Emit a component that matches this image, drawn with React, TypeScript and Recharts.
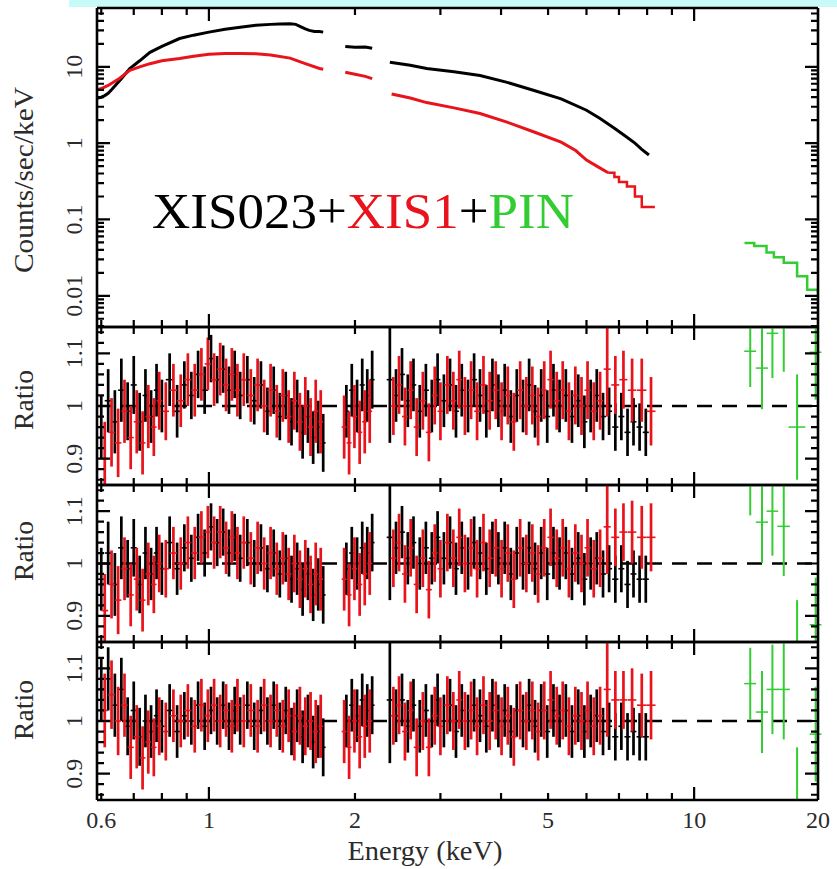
import React from 'react';
import { ComposedChart, XAxis, YAxis, Line, Scatter, ErrorBar, ReferenceLine } from 'recharts';

const W = 837;
const H = 869;
const PLOT_LEFT = 97;
const PLOT_RIGHT = 818;
const FONT = '"Liberation Serif", "Times New Roman", Times, serif';
const INK = '#2b2b2b';
const RED = '#e8131b';
const GREEN = '#33cc33';

// energy axis in keV. the figure is squeezed at the high end, so "20" sits on the right frame
const X_MIN = 0.588;
const X_MAX = 18.0;
const X_TICKS = [0.6, 0.7, 0.8, 0.9, 1, 2, 3, 4, 5, 6, 7, 8, 9, 10];
const X_MAJOR = [1, 10];
const X_LABEL_AT = [0.6, 1, 2, 5, 10, X_MAX];
const X_LABELS = new Map<number, string>([[0.6, '0.6'], [1, '1'], [2, '2'], [5, '5'], [10, '10'], [X_MAX, '20']]);

const COUNT_DOMAIN = [0.0039, 59];
const COUNT_TICKS = [
  0.004, 0.005, 0.006, 0.007, 0.008, 0.009,
  0.01, 0.02, 0.03, 0.04, 0.05, 0.06, 0.07, 0.08, 0.09,
  0.1, 0.2, 0.3, 0.4, 0.5, 0.6, 0.7, 0.8, 0.9,
  1, 2, 3, 4, 5, 6, 7, 8, 9,
  10, 20, 30, 40, 50,
];
const COUNT_MAJOR = [0.01, 0.1, 1, 10];
const COUNT_LABELS = new Map<number, string>([[0.01, '0.01'], [0.1, '0.1'], [1, '1'], [10, '10']]);

const RATIO_DOMAIN = [0.85, 1.15];
const RATIO_TICKS = [0.86, 0.88, 0.9, 0.92, 0.94, 0.96, 0.98, 1, 1.02, 1.04, 1.06, 1.08, 1.1, 1.12, 1.14];
const RATIO_MAJOR = [0.9, 1, 1.1];
const RATIO_LABELS = new Map<number, string>([[0.9, '0.9'], [1, '1'], [1.1, '1.1']]);

// ---- top panel: folded spectra (counts/sec/keV), null = gap between bands
const XIS023_SPEC_E = [
  0.59, 0.6, 0.61, 0.62, 0.63, 0.64, 0.66, 0.687, 0.72, 0.756, 0.8, 0.87, 0.93, 1.0, 1.08, 1.16, 1.25, 1.34, 1.4,
  1.47, 1.51, 1.54, 1.58, 1.61, 1.65, 1.69, 1.72,
  1.8,
  1.91, 2.0, 2.1, 2.17,
  2.25,
  2.36, 2.6, 2.81, 3.2, 3.62, 4.1, 4.68, 5.32, 6.0, 6.4, 6.85, 7.2, 7.55, 7.8, 8.07,
];
const XIS023_SPEC_V = [
  3.9, 4.0, 4.2, 4.5, 5.0, 5.6, 7.0, 9.5, 12, 15.5, 18.5, 23.5, 26, 28.5, 31, 33, 35, 36, 36.5,
  36.6, 36, 34, 31.5, 30, 29, 29, 28.5,
  null,
  18.5, 18, 18.2, 17.5,
  null,
  11.5, 10.5, 9.5, 8.6, 7.7, 6.3, 4.9, 3.8, 2.7, 2.1, 1.57, 1.25, 1.0, 0.83, 0.7,
];
const XIS1_SPEC_E = [
  0.59, 0.6, 0.62, 0.655, 0.687, 0.72, 0.756, 0.8, 0.87, 0.93, 1.0, 1.08, 1.16, 1.25, 1.34, 1.47, 1.58, 1.69, 1.72,
  1.8,
  1.91, 2.0, 2.1, 2.17,
  2.25,
  2.38, 2.6, 2.81, 3.2, 3.62, 4.1, 4.68, 5.32, 5.7, 6.0, 6.3, 6.65,
];
const XIS1_SPEC_V = [
  5.0, 5.2, 5.7, 7.1, 9.0, 10, 11, 12, 12.9, 13.8, 14.6, 15, 15, 14.8, 14.3, 13, 11, 9.5, 9.3,
  null,
  8.5, 8.0, 7.5, 7.0,
  null,
  4.4, 3.9, 3.4, 2.9, 2.45, 1.9, 1.4, 1.03, 0.8, 0.6, 0.5, 0.41,
];
// XIS1 wide bins above 6.6 keV (drawn as a staircase)
const XIS1_TAIL_E = [6.65, 6.85, 7.0, 7.27, 7.55, 7.8, 8.3];
const XIS1_TAIL_V = [0.41, 0.36, 0.31, 0.27, 0.2, 0.146, 0.146];
const PIN_SPEC_E = [12.7, 13.3, 14.1, 14.6, 15.3, 16.3, 17.1, 18.0];
const PIN_SPEC_V = [0.049, 0.045, 0.037, 0.032, 0.027, 0.018, 0.012, 0.011];

// ---- ratio panels: bin energies (keV)
const XIS023_E = [
  0.6, 0.62, 0.64, 0.66, 0.68, 0.7, 0.72, 0.74, 0.76, 0.78, 0.8, 0.83, 0.86, 0.89, 0.92, 0.95, 0.98, 1.01, 1.04,
  1.07, 1.1, 1.13, 1.16, 1.2, 1.24, 1.28, 1.32, 1.36, 1.4, 1.44, 1.48, 1.52, 1.56, 1.6, 1.64, 1.68, 1.72,
  1.92, 1.97, 2.02, 2.07, 2.12, 2.17,
  2.36, 2.43, 2.5, 2.57, 2.64, 2.72, 2.8, 2.88, 2.96, 3.05, 3.14, 3.23, 3.32, 3.42, 3.52, 3.62, 3.73, 3.84, 3.95,
  4.07, 4.19, 4.31, 4.44, 4.57, 4.7, 4.84, 4.98, 5.13, 5.28, 5.44, 5.6, 5.77, 5.94, 6.12, 6.3, 6.49, 6.68, 6.88,
  7.08, 7.29, 7.5, 7.72, 7.95,
];
const XIS023_ERR = [
  0.06, 0.06, 0.06, 0.06, 0.055, 0.055, 0.055, 0.05, 0.05, 0.05, 0.05, 0.05, 0.05, 0.045, 0.045, 0.045, 0.045, 0.045, 0.045,
  0.045, 0.045, 0.045, 0.045, 0.045, 0.045, 0.045, 0.045, 0.045, 0.045, 0.045, 0.045, 0.05, 0.05, 0.05, 0.05, 0.05, 0.055,
  0.05, 0.05, 0.05, 0.05, 0.05, 0.055,
  0.12, 0.05, 0.05, 0.05, 0.05, 0.05, 0.05, 0.05, 0.05, 0.05, 0.05, 0.05, 0.05, 0.05, 0.05, 0.05, 0.05, 0.05, 0.05,
  0.05, 0.05, 0.05, 0.05, 0.05, 0.05, 0.05, 0.05, 0.05, 0.05, 0.05, 0.05, 0.05, 0.05, 0.05, 0.05, 0.045, 0.045, 0.045,
  0.045, 0.045, 0.045, 0.045, 0.045,
];
const XIS1_E = [
  0.61, 0.63, 0.65, 0.67, 0.69, 0.71, 0.73, 0.75, 0.77, 0.79, 0.815, 0.845, 0.875, 0.905, 0.935, 0.965, 0.995, 1.025,
  1.055, 1.085, 1.115, 1.145, 1.18, 1.22, 1.26, 1.3, 1.34, 1.38, 1.42, 1.46, 1.5, 1.54, 1.58, 1.62, 1.66, 1.7,
  1.9, 1.945, 1.995, 2.045, 2.095, 2.145,
  2.4, 2.465, 2.535, 2.605, 2.68, 2.76, 2.84, 2.92, 3.0, 3.1, 3.19, 3.28, 3.37, 3.47, 3.57, 3.68, 3.79, 3.9, 4.01,
  4.13, 4.25, 4.38, 4.51, 4.64, 4.77, 4.91, 5.06, 5.21, 5.36, 5.52, 5.69, 5.86, 6.03, 6.21, 6.4, 6.62, 6.88, 7.15,
  7.45, 7.8, 8.15,
];
const XIS1_ERR = [
  0.07, 0.065, 0.065, 0.06, 0.06, 0.06, 0.06, 0.06, 0.055, 0.055, 0.055, 0.05, 0.05, 0.05, 0.05, 0.05, 0.05, 0.05,
  0.05, 0.05, 0.05, 0.05, 0.05, 0.05, 0.05, 0.05, 0.05, 0.05, 0.05, 0.05, 0.055, 0.055, 0.055, 0.055, 0.06, 0.06,
  0.06, 0.06, 0.06, 0.06, 0.06, 0.06,
  0.055, 0.055, 0.055, 0.055, 0.055, 0.055, 0.055, 0.055, 0.055, 0.055, 0.055, 0.055, 0.055, 0.055, 0.055, 0.055,
  0.055, 0.055, 0.055, 0.055, 0.055, 0.055, 0.055, 0.055, 0.055, 0.055, 0.055, 0.055, 0.055, 0.055, 0.055, 0.055,
  0.055, 0.055, 0.055, 0.09, 0.055, 0.055, 0.06, 0.06, 0.065,
];
const PIN_E = [13.05, 13.8, 14.5, 15.3, 16.3, 17.8];
const PIN_HALF = [0.37, 0.4, 0.4, 0.45, 0.65, 0.5];
const PIN_ERR = [0.068, 0.078, 0.085, 0.095, 0.1, 0.09];

// ratio values, model A (second panel)
const XIS023_RATIO_A = [
  0.96, 1.01, 0.97, 1.03, 0.99, 1.04, 0.97, 1.02, 0.98, 1.03, 1.0, 1.05, 0.99, 1.04, 1.02, 1.06, 1.03, 1.09, 1.05,
  1.07, 1.03, 1.06, 1.02, 1.05, 1.01, 1.04, 0.99, 1.03, 0.98, 1.02, 0.97, 1.0, 0.95, 0.98, 0.94, 0.96, 0.93,
  0.99, 1.03, 1.0, 1.04, 1.02, 1.05,
  1.05, 1.02, 1.06, 1.01, 1.04, 0.99, 1.03, 1.0, 1.05, 1.01, 1.04, 0.99, 1.03, 1.0, 1.05, 1.02, 0.99, 1.04, 1.01,
  1.03, 0.98, 1.02, 1.0, 1.04, 0.99, 1.02, 0.98, 1.03, 1.0, 1.02, 0.98, 1.01, 0.97, 1.0, 1.02, 0.98, 0.99, 0.96,
  0.98, 0.95, 0.97, 0.96, 0.95,
];
const XIS1_RATIO_A = [
  0.9, 0.95, 0.93, 0.99, 0.94, 0.97, 0.93, 0.98, 0.96, 1.01, 0.99, 1.03, 1.01, 1.05, 1.03, 1.06, 1.08, 1.05,
  1.07, 1.04, 1.06, 1.03, 1.05, 1.02, 1.04, 1.0, 1.03, 0.99, 1.02, 0.98, 1.01, 0.97, 1.0, 0.96, 0.99, 0.97,
  0.96, 0.93, 0.98, 0.95, 0.97, 0.99,
  1.0, 1.04, 0.98, 1.03, 0.96, 1.01, 0.95, 1.02, 0.99, 1.04, 1.01, 1.05, 1.0, 1.03, 0.99, 1.04, 1.01, 1.03, 0.99,
  1.02, 0.97, 1.03, 1.0, 1.02, 0.98, 1.03, 1.05, 1.01, 1.03, 0.99, 1.02, 1.0, 1.03, 0.99, 1.01, 1.07, 1.04, 1.05,
  1.03, 1.03, 0.99,
];
const PIN_RATIO_A = [1.104, 1.072, 1.138, 1.16, 0.96, 1.102];

// model B (third panel)
const XIS023_RATIO_B = [
  0.97, 1.02, 0.96, 1.03, 0.99, 1.03, 0.96, 1.02, 0.98, 1.02, 0.99, 1.04, 0.99, 1.03, 1.01, 1.05, 1.02, 1.07, 1.04,
  1.06, 1.02, 1.05, 1.01, 1.04, 1.0, 1.03, 0.99, 1.02, 0.98, 1.01, 0.97, 0.99, 0.95, 0.98, 0.94, 0.96, 0.94,
  0.99, 1.02, 1.0, 1.03, 1.02, 1.04,
  1.05, 1.03, 1.06, 1.01, 1.04, 1.0, 1.03, 1.01, 1.05, 1.01, 1.04, 0.99, 1.03, 1.0, 1.04, 1.02, 0.99, 1.03, 1.01,
  1.03, 0.98, 1.02, 1.0, 1.03, 0.99, 1.02, 0.98, 1.02, 1.0, 1.02, 0.98, 1.01, 0.97, 1.0, 1.01, 0.98, 0.99, 0.97,
  0.99, 0.96, 0.98, 0.97, 0.97,
];
const XIS1_RATIO_B = [
  0.91, 0.96, 0.93, 0.99, 0.94, 0.97, 0.93, 0.98, 0.96, 1.0, 0.99, 1.02, 1.0, 1.04, 1.02, 1.05, 1.06, 1.04,
  1.06, 1.03, 1.05, 1.02, 1.04, 1.01, 1.03, 1.0, 1.02, 0.99, 1.01, 0.98, 1.0, 0.97, 0.99, 0.96, 0.98, 0.97,
  0.97, 0.94, 0.99, 0.96, 0.98, 1.0,
  1.01, 1.04, 0.98, 1.03, 0.96, 1.01, 0.95, 1.02, 0.99, 1.04, 1.01, 1.05, 1.0, 1.03, 0.99, 1.04, 1.01, 1.03, 0.99,
  1.02, 0.97, 1.03, 1.0, 1.02, 0.98, 1.03, 1.05, 1.01, 1.03, 0.99, 1.02, 1.0, 1.03, 0.99, 1.01, 1.07, 1.05, 1.06,
  1.06, 1.05, 1.05,
];
const PIN_RATIO_B = [1.16, 1.079, 1.1, 1.071, 0.83, 0.883];

// model C (bottom panel)
const XIS023_RATIO_C = [
  1.06, 1.08, 1.03, 1.06, 0.99, 1.02, 0.97, 1.0, 0.98, 1.01, 0.99, 1.02, 0.98, 1.01, 1.0, 1.03, 0.99, 1.02, 1.0,
  1.03, 0.99, 1.02, 1.0, 1.03, 0.99, 1.02, 1.0, 1.03, 0.99, 1.02, 0.98, 1.01, 0.97, 1.0, 0.96, 0.98, 0.95,
  1.0, 1.03, 1.01, 1.04, 1.02, 1.03,
  1.04, 1.01, 1.04, 0.99, 1.03, 0.99, 1.02, 1.0, 1.04, 1.0, 1.03, 0.98, 1.02, 1.0, 1.03, 1.01, 0.99, 1.03, 1.0,
  1.02, 0.98, 1.02, 1.0, 1.03, 0.99, 1.02, 0.98, 1.02, 1.0, 1.02, 0.98, 1.01, 0.98, 1.0, 1.01, 0.98, 0.99, 0.97,
  0.99, 0.97, 0.98, 0.97, 0.97,
];
const XIS1_RATIO_C = [
  1.02, 1.05, 1.0, 1.03, 0.95, 0.97, 0.93, 0.96, 0.95, 0.99, 0.98, 1.01, 1.0, 1.02, 0.99, 1.03, 1.01, 1.03,
  1.0, 1.02, 0.99, 1.03, 1.0, 1.02, 0.99, 1.03, 1.0, 1.02, 0.99, 1.01, 0.98, 1.01, 0.99, 1.0, 0.98, 0.99,
  0.98, 0.95, 1.0, 0.97, 0.99, 1.0,
  1.01, 1.03, 0.98, 1.02, 0.95, 1.0, 0.95, 1.01, 0.99, 1.03, 1.0, 1.04, 1.0, 1.02, 0.99, 1.03, 1.0, 1.02, 0.99,
  1.01, 0.97, 1.02, 1.0, 1.02, 0.98, 1.02, 1.04, 1.01, 1.02, 0.99, 1.01, 1.0, 1.02, 0.99, 1.01, 1.06, 1.04, 1.04,
  1.04, 1.03, 1.03,
];
const PIN_RATIO_C = [1.071, 1.017, 1.06, 1.06, 0.85, 0.975];

// panel frames (page pixels)
const PANELS = [
  { top: 8, bottom: 327, counts: true },
  { top: 327, bottom: 485, counts: false },
  { top: 485, bottom: 642, counts: false },
  { top: 642, bottom: 800, counts: false },
];
const RATIO_TITLE_Y = [400, 551, 710];

type Pt = { e: number; v: number | null; err?: number[]; xerr?: number };

const spectrum = (es: number[], vs: (number | null)[]): Pt[] => es.map((e, i) => ({ e, v: vs[i] }));

// half bin width from the nearest neighbouring bin
const halfWidth = (es: number[], i: number) => {
  const d = [es[i + 1] - es[i], es[i] - es[i - 1]].filter((x) => !Number.isNaN(x) && x > 0);
  return Math.min(...d) / 2;
};
// error bars are cut at the panel frame
const [R_LO, R_HI] = RATIO_DOMAIN;
const ratioPoints = (es: number[], vs: number[], errs: number[], half?: number[]): Pt[] =>
  es.map((e, i) => {
    const v = vs[i];
    const inside = v >= R_LO && v <= R_HI;
    return {
      e,
      v,
      err: [Math.min(errs[i], v - R_LO), Math.min(errs[i], R_HI - v)],
      xerr: inside ? (half ? half[i] : halfWidth(es, i)) : 0,
    };
  });

// tick labels only (the axis hands us the point on the frame)
const makeLabel = (side: 'bottom' | 'left', labels?: Map<number, string>) => (p: any) => {
  const v: number = p.payload.value;
  const x = Number(p.x);
  const y = Number(p.y);
  const text = labels ? labels.get(v) : undefined;
  if (!text) return <g />;
  if (side === 'bottom') {
    return (
      <text x={x} y={y + 28} textAnchor="middle" fontSize={24} fontFamily={FONT} fill={INK}>
        {text}
      </text>
    );
  }
  return (
    <text x={x - 15} y={y} transform={`rotate(-90 ${x - 15} ${y})`} textAnchor="middle" fontSize={24} fontFamily={FONT} fill={INK}>
      {text}
    </text>
  );
};

// inward frame ticks, xspec style: same axis mapping as the charts (log x, log/linear y)
const MAJOR_LEN = 13;
const MINOR_LEN = 7;
const xPx = (e: number) =>
  PLOT_LEFT + (Math.log10(e / X_MIN) / Math.log10(X_MAX / X_MIN)) * (PLOT_RIGHT - PLOT_LEFT);

function FrameTicks({ top, bottom, counts }: { top: number; bottom: number; counts: boolean }) {
  const [y0, y1] = counts ? COUNT_DOMAIN : RATIO_DOMAIN;
  const h = bottom - top;
  const yPx = (v: number) =>
    counts ? top + (Math.log10(y1 / v) / Math.log10(y1 / y0)) * h : top + ((y1 - v) / (y1 - y0)) * h;
  const yTicks = counts ? COUNT_TICKS : RATIO_TICKS;
  const yMajor = counts ? COUNT_MAJOR : RATIO_MAJOR;
  const segs: string[] = [];
  X_TICKS.forEach((t) => {
    const x = xPx(t);
    const len = X_MAJOR.includes(t) ? MAJOR_LEN : MINOR_LEN;
    segs.push(`M${x},${bottom}V${bottom - len}`, `M${x},${top}V${top + len}`);
  });
  yTicks.forEach((t) => {
    const y = yPx(t);
    const len = yMajor.includes(t) ? MAJOR_LEN : MINOR_LEN;
    segs.push(`M${PLOT_LEFT},${y}H${PLOT_LEFT + len}`, `M${PLOT_RIGHT},${y}H${PLOT_RIGHT - len}`);
  });
  return <path d={segs.join('')} stroke="#000" strokeWidth={2.2} fill="none" />;
}

const frameLine = { stroke: '#000', strokeWidth: 2.6 };
const noMark = () => <g />;

type PanelProps = { top: number; bottom: number; counts?: boolean; showX?: boolean; children: React.ReactNode };

// axis bands are 1px wide, so the plot area sits exactly on the frame
function Panel({ top, bottom, counts = false, showX = false, children }: PanelProps) {
  const mt = 20;
  const mb = showX ? 69 : 20;
  const domain = counts ? COUNT_DOMAIN : RATIO_DOMAIN;
  const labelTicks = counts ? COUNT_MAJOR : RATIO_MAJOR;
  const labels = counts ? COUNT_LABELS : RATIO_LABELS;
  const scale = counts ? 'log' : 'linear';
  return (
    <div style={{ position: 'absolute', left: 0, top: top - mt }}>
      <ComposedChart
        width={W}
        height={bottom - top + mt + mb}
        margin={{ top: mt - 1, right: W - PLOT_RIGHT - 1, bottom: mb - 1, left: PLOT_LEFT - 1 }}
      >
        <XAxis
          dataKey="e"
          type="number"
          scale="log"
          domain={[X_MIN, X_MAX]}
          allowDataOverflow
          ticks={X_LABEL_AT}
          interval={0}
          height={1}
          tickSize={0}
          tickMargin={0}
          tickLine={false}
          axisLine={frameLine}
          tick={makeLabel('bottom', showX ? X_LABELS : undefined)}
        />
        <XAxis
          xAxisId="t"
          orientation="top"
          type="number"
          scale="log"
          domain={[X_MIN, X_MAX]}
          allowDataOverflow
          height={1}
          tick={false}
          tickLine={false}
          axisLine={frameLine}
        />
        <YAxis
          dataKey="v"
          type="number"
          scale={scale}
          domain={domain}
          allowDataOverflow
          ticks={labelTicks}
          interval={0}
          width={1}
          tickSize={0}
          tickMargin={0}
          tickLine={false}
          axisLine={frameLine}
          tick={makeLabel('left', labels)}
        />
        <YAxis
          yAxisId="r"
          orientation="right"
          type="number"
          scale={scale}
          domain={domain}
          allowDataOverflow
          width={1}
          tick={false}
          tickLine={false}
          axisLine={frameLine}
        />
        {children}
      </ComposedChart>
    </div>
  );
}

function RatioPanel({ top, bottom, xis023, xis1, pin, showX }: {
  top: number; bottom: number; xis023: number[]; xis1: number[]; pin: number[]; showX?: boolean;
}) {
  return (
    <Panel top={top} bottom={bottom} showX={showX}>
      <ReferenceLine y={1} stroke="#000" strokeWidth={2.5} strokeDasharray="15 10" />
      <Scatter data={ratioPoints(XIS023_E, xis023, XIS023_ERR)} dataKey="v" shape={noMark} isAnimationActive={false}>
        <ErrorBar dataKey="err" direction="y" width={0} stroke="#000" strokeWidth={2.7} />
        <ErrorBar dataKey="xerr" direction="x" width={0} stroke="#000" strokeWidth={1.6} />
      </Scatter>
      <Scatter data={ratioPoints(XIS1_E, xis1, XIS1_ERR)} dataKey="v" shape={noMark} isAnimationActive={false}>
        <ErrorBar dataKey="err" direction="y" width={0} stroke={RED} strokeWidth={2.7} />
        <ErrorBar dataKey="xerr" direction="x" width={0} stroke={RED} strokeWidth={1.6} />
      </Scatter>
      <Scatter data={ratioPoints(PIN_E, pin, PIN_ERR, PIN_HALF)} dataKey="v" shape={noMark} isAnimationActive={false}>
        <ErrorBar dataKey="err" direction="y" width={0} stroke={GREEN} strokeWidth={2} />
        <ErrorBar dataKey="xerr" direction="x" width={0} stroke={GREEN} strokeWidth={1.5} />
      </Scatter>
    </Panel>
  );
}

const textStyle = { fontFamily: FONT, fill: INK };

export default function App() {
  return (
    <div style={{ position: 'absolute', left: 0, top: 0, width: W, height: H, background: '#fff', overflow: 'hidden' }}>
      <div style={{ position: 'absolute', left: 69, top: 0, width: W - 69, height: 7, background: '#c8fafa' }} />

      <Panel top={PANELS[0].top} bottom={PANELS[0].bottom} counts>
        <Line
          data={spectrum(XIS023_SPEC_E, XIS023_SPEC_V)}
          dataKey="v"
          type="linear"
          stroke="#000"
          strokeWidth={3}
          dot={false}
          connectNulls={false}
          isAnimationActive={false}
        />
        <Line
          data={spectrum(XIS1_SPEC_E, XIS1_SPEC_V)}
          dataKey="v"
          type="linear"
          stroke={RED}
          strokeWidth={3}
          dot={false}
          connectNulls={false}
          isAnimationActive={false}
        />
        <Line
          data={spectrum(XIS1_TAIL_E, XIS1_TAIL_V)}
          dataKey="v"
          type="stepAfter"
          stroke={RED}
          strokeWidth={2.5}
          dot={false}
          isAnimationActive={false}
        />
        <Line
          data={spectrum(PIN_SPEC_E, PIN_SPEC_V)}
          dataKey="v"
          type="stepAfter"
          stroke={GREEN}
          strokeWidth={2.5}
          dot={false}
          isAnimationActive={false}
        />
      </Panel>
      <RatioPanel top={PANELS[1].top} bottom={PANELS[1].bottom} xis023={XIS023_RATIO_A} xis1={XIS1_RATIO_A} pin={PIN_RATIO_A} />
      <RatioPanel top={PANELS[2].top} bottom={PANELS[2].bottom} xis023={XIS023_RATIO_B} xis1={XIS1_RATIO_B} pin={PIN_RATIO_B} />
      <RatioPanel top={PANELS[3].top} bottom={PANELS[3].bottom} xis023={XIS023_RATIO_C} xis1={XIS1_RATIO_C} pin={PIN_RATIO_C} showX />

      <svg width={W} height={H} style={{ position: 'absolute', left: 0, top: 0, pointerEvents: 'none' }}>
        {PANELS.map((p) => (
          <FrameTicks key={p.top} top={p.top} bottom={p.bottom} counts={p.counts} />
        ))}
        <text x={33} y={180} transform="rotate(-90 33 180)" textAnchor="middle" fontSize={27} textLength={186} lengthAdjust="spacingAndGlyphs" style={textStyle}>
          Counts/sec/keV
        </text>
        {RATIO_TITLE_Y.map((y) => (
          <text key={y} x={33} y={y} transform={`rotate(-90 33 ${y})`} textAnchor="middle" fontSize={27} textLength={60} lengthAdjust="spacingAndGlyphs" style={textStyle}>
            Ratio
          </text>
        ))}
        <text x={425} y={860} textAnchor="middle" fontSize={27} textLength={155} lengthAdjust="spacingAndGlyphs" style={textStyle}>
          Energy (keV)
        </text>
        <text x={152} y={228} fontSize={50} fontFamily={FONT} textLength={422} lengthAdjust="spacingAndGlyphs">
          <tspan fill="#000">XIS023+</tspan>
          <tspan fill={RED}>XIS1</tspan>
          <tspan fill="#000">+</tspan>
          <tspan fill={GREEN}>PIN</tspan>
        </text>
      </svg>
    </div>
  );
}
